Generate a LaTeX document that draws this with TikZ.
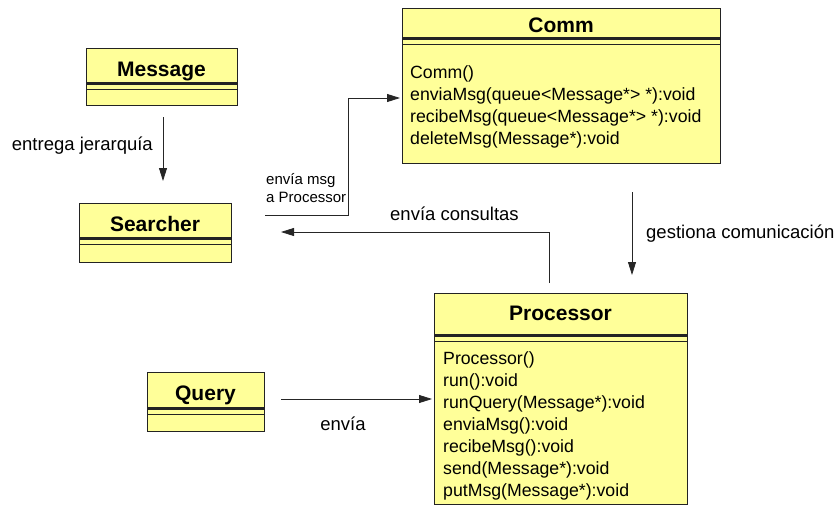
\documentclass[tikz,border=0pt]{standalone}
\usepackage{fontspec}
\setmainfont{Liberation Sans}
\usetikzlibrary{arrows.meta}
\definecolor{umlfill}{RGB}{255,255,153}
\definecolor{umledge}{RGB}{35,35,35}

% #1 name, #2 x, #3 y, #4 width, #5 height, #6 title baseline offset, #7 rule offset, #8 title
\newcommand\umlclass[8]{%
  \node[classbox, minimum width=#4pt, minimum height=#5pt] (#1) at (#2,#3) {};
  \node[classname, anchor=base] (#1-title) at ([yshift=-#6pt]#1.north) {#8};
  \draw[line width=3pt, umledge] ([yshift=-#7pt]#1.north west) -- ([yshift=-#7pt]#1.north east);
  \draw[line width=0.8pt, umledge] ([yshift=-#7pt-6.5pt]#1.north west) -- ([yshift=-#7pt-6.5pt]#1.north east);
}

\begin{document}
\begin{tikzpicture}[x=1pt,y=-1pt,
  classbox/.style={draw=umledge, fill=umlfill, line width=0.9pt, anchor=north west,
                   inner sep=0pt, outer sep=0pt},
  classname/.style={font=\fontsize{21}{25}\selectfont\bfseries, inner sep=0pt},
  member/.style={font=\fontsize{17.7}{22}\selectfont, anchor=base west, inner sep=0pt},
  lbl/.style={font=\fontsize{18.5}{22}\selectfont, inner sep=0pt},
  smalllbl/.style={font=\fontsize{15}{18}\selectfont, inner sep=0pt, anchor=base west},
  link/.style={draw=black!85, line width=0.8pt, -{Triangle[length=13pt,width=8pt]}},
]
\useasboundingbox (0,0) rectangle (840,506);

% classes
\umlclass{message}{86}{48}{151}{57}{28}{35}{Message}
\umlclass{searcher}{79}{203}{152}{59}{28}{35}{Searcher}
\umlclass{query}{147}{372}{117}{59}{28.5}{36}{Query}
\umlclass{comm}{402}{8}{318}{155}{24.5}{30}{Comm}
\umlclass{processor}{434}{293}{253}{211}{27}{42}{Processor}

% operations
\foreach \op [count=\i] in {Comm(), enviaMsg(queue<Message*> *):void,
    recibeMsg(queue<Message*> *):void, deleteMsg(Message*):void}
  \node[member] (comm-op\i) at (410,{78+22*(\i-1)}) {\op};

\foreach \op [count=\i] in {Processor(), run():void, runQuery(Message*):void,
    enviaMsg():void, recibeMsg():void, send(Message*):void, putMsg(Message*):void}
  \node[member] (proc-op\i) at (443,{364.5+22*(\i-1)}) {\op};

% connector end points
\coordinate (m-out) at (163,117);
\coordinate (s-in) at (163,181);
\coordinate (s-msg) at (265,215);
\coordinate (bend) at (348,215);
\coordinate (c-in) at (400,98);
\coordinate (p-out) at (549,283);
\coordinate (s-back) at (281,232);
\coordinate (c-out) at (632,192);
\coordinate (p-in) at (632,275);
\coordinate (q-out) at (281,399);
\coordinate (p-left) at (432,399);

% connectors
\draw[link] (m-out) -- (s-in);
\draw[link] (s-msg) -- (bend) |- (c-in);
\draw[link] (p-out) |- (s-back);
\draw[link] (c-out) -- (p-in);
\draw[link] (q-out) -- (p-left);

% connector labels
\node[lbl, anchor=base east] (lbl-hier) at (153,150) {entrega jerarquía};
\node[smalllbl] (lbl-msg1) at (266,184) {envía msg};
\node[smalllbl] (lbl-msg2) at (266,202) {a Processor};
\node[lbl, anchor=base west] (lbl-cons) at (390,220) {envía consultas};
\node[lbl, anchor=base west] (lbl-gest) at (646,238) {gestiona comunicación};
\node[lbl, anchor=base] (lbl-envia) at (343,430) {envía};
\end{tikzpicture}
\end{document}
